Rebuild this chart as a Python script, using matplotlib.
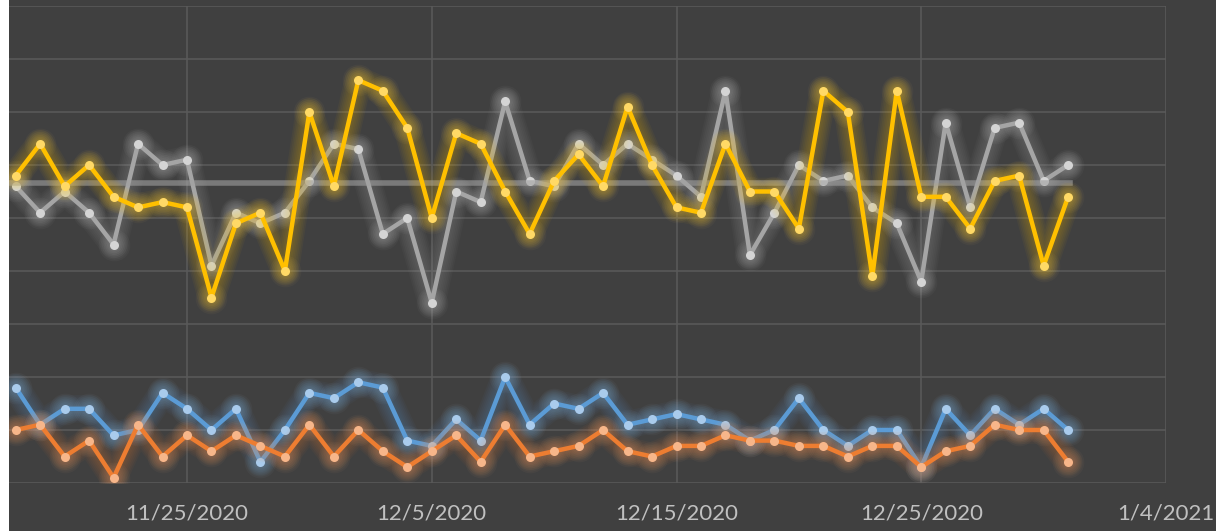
import numpy as np
import pandas as pd
import matplotlib
matplotlib.use("Agg")
import matplotlib.pyplot as plt
import matplotlib.dates as mdates
from matplotlib.patches import Rectangle

# daily series, 11/18/2020 - 12/31/2020
dates = pd.date_range("2020-11-18", "2020-12-31", freq="D")

gold = [58, 64, 56, 60, 54, 52, 53, 52, 35, 49, 51, 40, 70, 56, 76, 74, 67, 50, 66, 64, 55, 47,
        57, 62, 56, 71, 60, 52, 51, 64, 55, 55, 48, 74, 70, 39, 74, 54, 54, 48, 57, 58, 41, 54]
grey = [56, 51, 55, 51, 45, 64, 60, 61, 41, 51, 49, 51, 57, 64, 63, 47, 50, 34, 55, 53, 72, 57,
        56, 64, 60, 64, 61, 58, 54, 74, 43, 51, 60, 57, 58, 52, 49, 38, 68, 52, 67, 68, 57, 60]
blue = [18, 11, 14, 14, 9, 10, 17, 14, 10, 14, 4, 10, 17, 16, 19, 18, 8, 7, 12, 8, 20, 11,
        15, 14, 17, 11, 12, 13, 12, 11, 8, 10, 16, 10, 7, 10, 10, 3, 14, 9, 14, 11, 14, 10]
orange = [10, 11, 5, 8, 1, 11, 5, 9, 6, 9, 7, 5, 11, 5, 10, 6, 3, 6, 9, 4, 11, 5,
          6, 7, 10, 6, 5, 7, 7, 9, 8, 8, 7, 7, 5, 7, 7, 3, 6, 7, 11, 10, 10, 4]
avg_level = 56.6

tick_dates = pd.to_datetime(["2020-11-25", "2020-12-05", "2020-12-15", "2020-12-25", "2021-01-04"])

BG = "#404040"
GRID = "#595959"


def glow_line(ax, x, y, color, mcolor, z):
    # soft halo: a few wide, faint copies under the line
    for k in range(1, 8):
        ax.plot(x, y, color=color, lw=3.2 + 2.4 * k, alpha=0.045,
                solid_capstyle="round", solid_joinstyle="round", zorder=z)
        ax.plot(x, y, ls="none", marker="o", ms=6 + 2.4 * k,
                color=mcolor, alpha=0.04, mew=0, zorder=z)
    ax.plot(x, y, color=color, lw=3.2, solid_joinstyle="round", zorder=z + 0.5)
    ax.plot(x, y, ls="none", marker="o", ms=6.5, color=mcolor, mew=0, zorder=z + 0.6)


fig = plt.figure(figsize=(12.16, 5.31), dpi=100, facecolor=BG)
ax = fig.add_axes([9 / 1216, 48 / 531, 1157 / 1216, 477 / 531])
ax.set_facecolor(BG)

glow_line(ax, dates, blue, "#5b9bd5", "#a9cbec", 2)
glow_line(ax, dates, orange, "#ed7d31", "#f7b68a", 3)
glow_line(ax, dates, grey, "#a5a5a5", "#d4d4d4", 4)
ax.plot([dates[0] - pd.Timedelta(hours=5), dates[-1] + pd.Timedelta(hours=2)],
        [avg_level, avg_level], color="#a0a0a0", lw=4, alpha=0.6, zorder=4.8)
glow_line(ax, dates, gold, "#ffc000", "#ffd966", 5)

ax.set_ylim(0, 90)
ax.set_yticks(np.arange(0, 91, 10))
ax.set_xlim(tick_dates[0] - pd.Timedelta(days=178 / 24.475), tick_dates[-1])
ax.set_xticks(tick_dates)
ax.xaxis.set_major_formatter(plt.FuncFormatter(
    lambda v, pos: "{d.month}/{d.day}/{d.year}".format(d=mdates.num2date(v))))

ax.grid(True, color=GRID, lw=1.2)
ax.set_axisbelow(True)
ax.tick_params(length=0, labelleft=False, labelcolor="#c0c0c0", labelsize=16, pad=15)
for lab in ax.get_xticklabels():
    lab.set_family(["Lato", "DejaVu Sans"])
for s in ax.spines.values():
    s.set_visible(False)

# white margin at the far left
fig.patches.append(Rectangle((0, 0), 9 / 1216, 1, transform=fig.transFigure,
                             facecolor="white", edgecolor="none", zorder=10))

fig.savefig("out.png", dpi=100, facecolor=BG)
